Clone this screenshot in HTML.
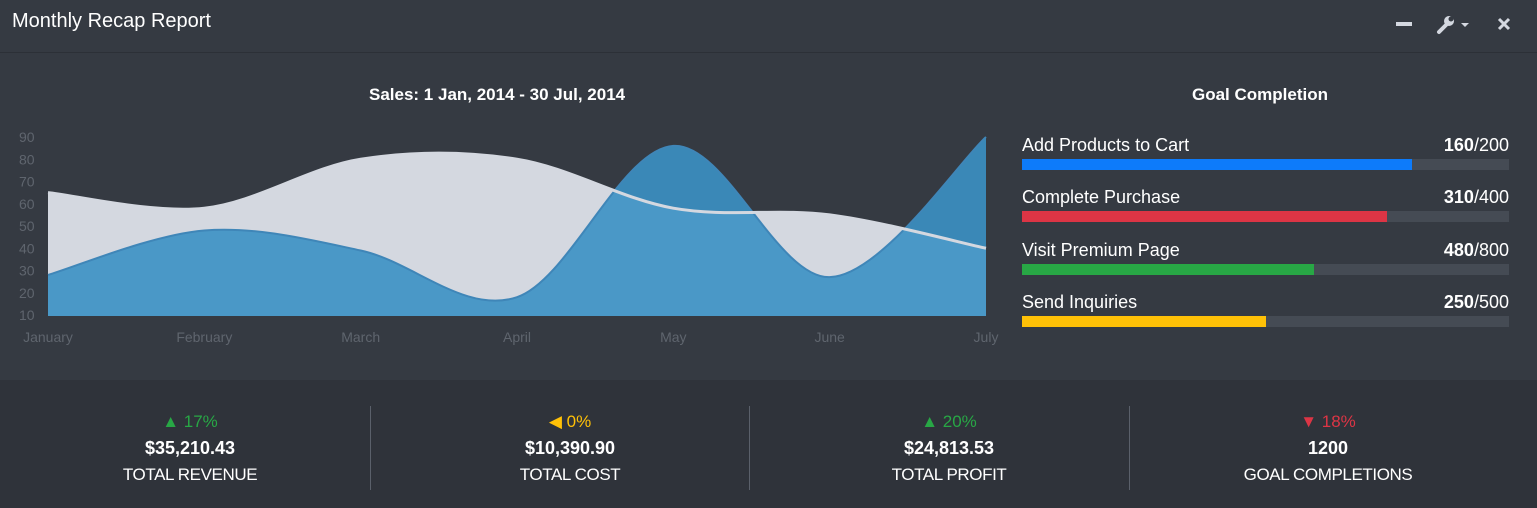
<!DOCTYPE html>
<html><head><meta charset="utf-8"><style>
body{margin:0;width:1537px;height:508px;background:#353a42;font-family:"Liberation Sans",sans-serif;overflow:hidden;position:relative;color:#fff}
.hdr{position:absolute;left:0;top:0;width:1537px;height:52px;border-bottom:1px solid #2c3037;background:#353a42}
.title{position:absolute;left:12px;top:10px;font-size:20px;color:#fff}
.ctitle{position:absolute;font-weight:bold;font-size:17px;top:85px}
.goal{position:absolute;left:1022px;width:487px}
.goal .lbl{font-size:18px;position:absolute;top:0;left:0}
.goal .val{font-size:18px;position:absolute;top:0;right:0}
.goal .bar{position:absolute;top:24px;left:0;width:487px;height:11px;background:#454b54}
.goal .fill{height:11px}
.foot{position:absolute;left:0;top:380px;width:1537px;height:128px;background:#2f333a}
.stat{position:absolute;top:0;width:380px;text-align:center}
.stat .p{position:absolute;top:32px;width:100%;font-size:17px}
.stat .v{position:absolute;top:58px;width:100%;font-size:18px;font-weight:bold}
.stat .n{position:absolute;top:85px;width:100%;font-size:17px;letter-spacing:-0.4px}
.sep{position:absolute;top:26px;width:1px;height:84px;background:#5a606a}
</style></head><body>
<div class="hdr">
<div class="title">Monthly Recap Report</div>
<div style="position:absolute;left:1396px;top:22px;width:16px;height:4px;background:#d4d8e0"></div>
<svg style="position:absolute;left:1436px;top:12px" width="40" height="24"><path d="M3 20 L11 12" stroke="#d4d8e0" stroke-width="4" stroke-linecap="round"/><circle cx="13" cy="9" r="5" fill="#d4d8e0"/><circle cx="15" cy="7" r="2.5" fill="#353a42"/><path d="M25 11 L33 11 L29 15Z" fill="#d4d8e0"/></svg>
<svg style="position:absolute;left:1497px;top:17px" width="14" height="14"><path d="M2 2L12 12M12 2L2 12" stroke="#d4d8e0" stroke-width="3"/></svg>
</div>
<div class="ctitle" style="left:369px">Sales: 1 Jan, 2014 - 30 Jul, 2014</div>
<svg id="chart" style="position:absolute;left:0;top:120px" width="1010" height="240"></svg>
<div class="ctitle" style="left:1192px">Goal Completion</div>
<div class="goal" style="top:135px"><div class="lbl">Add Products to Cart</div><div class="val"><b>160</b>/200</div><div class="bar"><div class="fill" style="width:80%;background:#0d7bfa"></div></div></div>
<div class="goal" style="top:187px"><div class="lbl">Complete Purchase</div><div class="val"><b>310</b>/400</div><div class="bar"><div class="fill" style="width:75%;background:#dc3545"></div></div></div>
<div class="goal" style="top:240px"><div class="lbl">Visit Premium Page</div><div class="val"><b>480</b>/800</div><div class="bar"><div class="fill" style="width:60%;background:#28a745"></div></div></div>
<div class="goal" style="top:292px"><div class="lbl">Send Inquiries</div><div class="val"><b>250</b>/500</div><div class="bar"><div class="fill" style="width:50%;background:#ffc107"></div></div></div>
<div class="foot">
<div class="stat" style="left:0"><div class="p" style="color:#28a745">▲ 17%</div><div class="v">$35,210.43</div><div class="n">TOTAL REVENUE</div></div>
<div class="sep" style="left:370px"></div>
<div class="stat" style="left:380px"><div class="p" style="color:#ffc107">◀ 0%</div><div class="v">$10,390.90</div><div class="n">TOTAL COST</div></div>
<div class="sep" style="left:749px"></div>
<div class="stat" style="left:759px"><div class="p" style="color:#28a745">▲ 20%</div><div class="v">$24,813.53</div><div class="n">TOTAL PROFIT</div></div>
<div class="sep" style="left:1129px"></div>
<div class="stat" style="left:1138px"><div class="p" style="color:#dc3545">▼ 18%</div><div class="v">1200</div><div class="n">GOAL COMPLETIONS</div></div>
</div>
<script>
const months=["January","February","March","April","May","June","July"];
const seriesGray=[65,58,80,80,58,55,40];
const seriesBlue=[28,48,39,18,86,27,90];
const yTicks=[10,20,30,40,50,60,70,80,90];
const svg=document.getElementById('chart');
const NS='http://www.w3.org/2000/svg';
const X=i=>48+i*(938/6);
const Y=v=>195-(v-10)*2.225;
function mk(t,a){const e=document.createElementNS(NS,t);for(const k in a)e.setAttribute(k,a[k]);svg.appendChild(e);return e;}
yTicks.forEach(v=>{const t=mk('text',{x:19,y:Y(v)+5,fill:'#5f656e','font-size':14,'font-family':'Liberation Sans'});t.textContent=v;

});
months.forEach((m,i)=>{const t=mk('text',{x:X(i),y:222,fill:'#5f656e','font-size':14,'text-anchor':'middle','font-family':'Liberation Sans'});t.textContent=m;

});
function spline(d){const p=d.map((v,i)=>[X(i),Y(v)]);let s='M'+p[0][0]+' '+p[0][1];
for(let i=0;i<p.length-1;i++){const p0=p[i-1]||p[i],p1=p[i],p2=p[i+1],p3=p[i+2]||p2;const k=1/6;
s+=` C${p1[0]+(p2[0]-p0[0])*k} ${p1[1]+(p2[1]-p0[1])*k} ${p2[0]-(p3[0]-p1[0])*k} ${p2[1]-(p3[1]-p1[1])*k} ${p2[0]} ${p2[1]}`;}return s;}
const base=Y(10)+1;
function area(d){return spline(d)+` L${X(d.length-1)} ${base} L${X(0)} ${base} Z`;}
const ga=mk('path',{d:area(seriesGray),fill:'#d4d8e0'});


const ba=mk('path',{d:area(seriesBlue),fill:'rgb(59,145,196)','fill-opacity':0.9});


const bl=mk('path',{d:spline(seriesBlue),fill:'none',stroke:'#3f86b8','stroke-width':2});


const gl=mk('path',{d:spline(seriesGray),fill:'none',stroke:'#d4d8e0','stroke-width':3});


</script>
</body></html>
